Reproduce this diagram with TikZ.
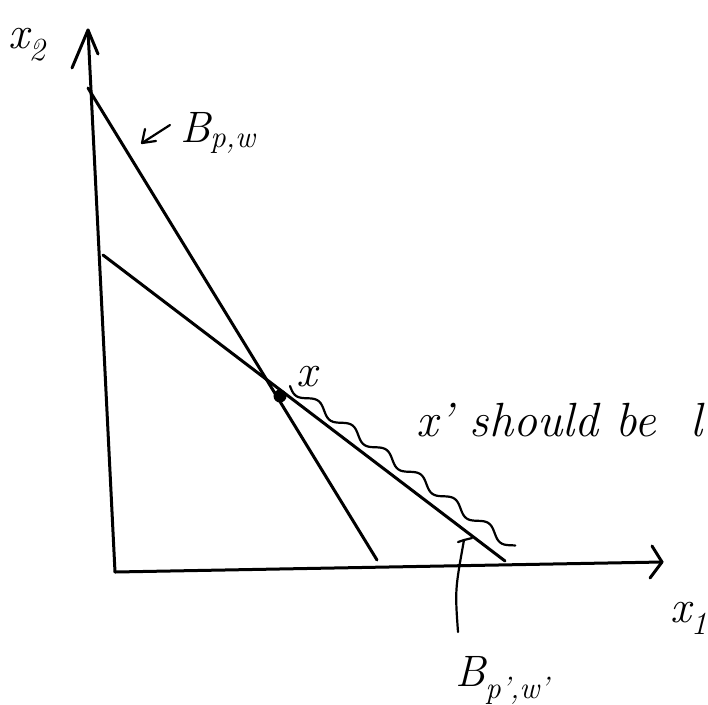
\documentclass[tikz,border=0pt]{standalone}
\usepackage{fontspec}
\usetikzlibrary{calc}
\begin{document}
\begin{tikzpicture}[x=1pt,y=-1pt,
  ink/.style={line width=3pt,line cap=round,line join=round},
  thin ink/.style={line width=2.2pt,line cap=round,line join=round},
  hand/.style={font=\fontsize{46}{50}\selectfont\itshape,inner sep=0pt}]
\useasboundingbox (0,0) rectangle (708,704);
% axes
\coordinate (O) at (115,572);
\coordinate (ytop) at (88,30);
\coordinate (xend) at (662,562);
\draw[ink] (O) -- (ytop);
\draw[ink] (72,68) -- (ytop) -- (98,54);
\draw[ink] (O) -- (xend);
\draw[ink] (652,546) -- (xend) -- (650,578);
% budget lines
\coordinate (A1) at (88,88);
\coordinate (A2) at (377,560);
\coordinate (B1) at (103,255);
\coordinate (B2) at (505,561);
\draw[ink] (A1) -- (A2);
\draw[ink] (B1) -- (B2);
% point x
\coordinate (X) at (280,396);
\fill (X) circle (6.5);
\node[hand,anchor=base west] (xlab) at (296,386) {x};
% wavy line
\coordinate (W1) at (290,386);
\coordinate (W2) at (514,547);
\draw[thin ink,shift={(W1)},rotate=-35.7] plot[domain=0:276,samples=120,smooth] (\x,{4.5*sin(\x/42*360)});
% text
\node[hand,anchor=base west,font=\fontsize{48}{52}\selectfont\itshape] (should) at (416,436) {x\kern1pt\textquoteright\ should be\hspace{34pt}l};
% labels
\node[hand,anchor=base west,font=\fontsize{44}{48}\selectfont\itshape] (Bpw) at (180,142) {B\textsubscript{p,w}};
\coordinate (arrS) at (170,125);
\coordinate (arrE) at (142,143);
\draw[thin ink] (arrS) -- (arrE);
\draw[thin ink] (arrE) -- ++(3,-14);
\draw[thin ink] (arrE) -- ++(14,-2);
\node[hand,anchor=base west] (x2) at (8,48) {x\textsubscript{2}};
\node[hand,anchor=base west] (x1) at (670,622) {x\textsubscript{1}};
\node[hand,anchor=base west,font=\fontsize{44}{48}\selectfont\itshape] (Bpw2) at (455,686) {B\textsubscript{p\textquoteright,w\textquoteright}};
\coordinate (c1) at (458,632);
\coordinate (c2) at (464,540);
\draw[thin ink] (c1) .. controls (455,590) .. (c2);
\draw[thin ink] (458,542) -- (c2) -- (472,538);
\end{tikzpicture}
\end{document}
